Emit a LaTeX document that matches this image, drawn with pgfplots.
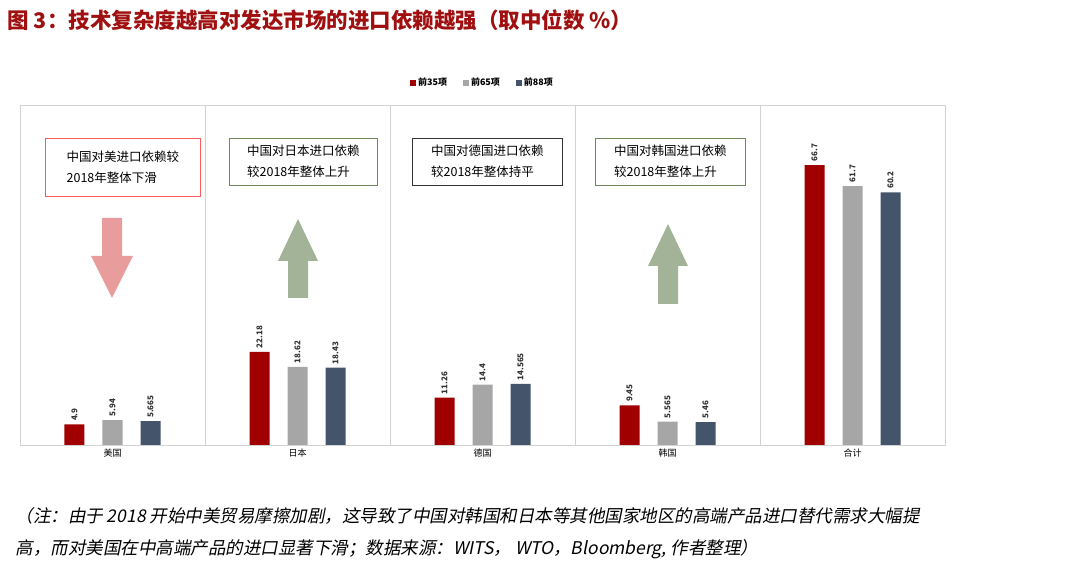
\documentclass[border=0pt]{standalone}
\usepackage{fontspec}
\setmainfont{Noto Sans CJK SC}[AutoFakeSlant=0.2]
\usepackage{pgfplots}
\pgfplotsset{compat=1.18}
\definecolor{cA}{HTML}{A00000}
\definecolor{cB}{HTML}{A6A6A6}
\definecolor{cC}{HTML}{44546A}
\definecolor{tred}{HTML}{A01010}
\definecolor{arrg}{HTML}{A3B398}
\definecolor{arrp}{HTML}{E89C9C}
\definecolor{bxg}{HTML}{6E8A5A}
\begin{document}
\begin{tikzpicture}[x=1pt,y=1pt]
\path (0,0) rectangle (1080,581);
\node[anchor=west,text=tred,font=\fontsize{21.5}{24}\selectfont\bfseries] at (4,561) {图 3：技术复杂度越高对发达市场的进口依赖越强（取中位数 \%）};
\begin{axis}[at={(20pt,136pt)},anchor=south west,scale only axis,width=925pt,height=340pt,
  xmin=-0.5,xmax=4.5,ymin=0,ymax=81,
  ybar,bar width=20pt,
  axis line style={draw=gray!35},
  ytick=\empty,xtick={0,1,2,3,4},xticklabels={美国,日本,德国,韩国,合计},
  x tick label style={font=\fontsize{9}{10}\selectfont},
  major tick length=0pt,
  legend style={at={(0.5,1.04)},anchor=south,draw=none,legend columns=3,font=\fontsize{9}{10}\selectfont\bfseries,/tikz/every even column/.append style={column sep=14pt}},
  legend image code/.code={\fill[#1] (0,-3pt) rectangle (6pt,3pt);},
  nodes near coords,point meta=explicit symbolic,
  every node near coord/.append style={rotate=90,anchor=west,font=\fontsize{8}{9}\selectfont\bfseries,text=black!80},
  clip=false]
\addplot[fill=cA,draw=none,bar shift=-38pt] coordinates {(0,4.9)[4.9] (1,22.18)[22.18] (2,11.26)[11.26] (3,9.45)[9.45] (4,66.7)[66.7]};
\addplot[fill=cB,draw=none,bar shift=0pt] coordinates {(0,5.94)[5.94] (1,18.62)[18.62] (2,14.4)[14.4] (3,5.565)[5.565] (4,61.7)[61.7]};
\addplot[fill=cC,draw=none,bar shift=38pt] coordinates {(0,5.665)[5.665] (1,18.43)[18.43] (2,14.565)[14.565] (3,5.46)[5.46] (4,60.2)[60.2]};
\legend{前35项,前65项,前88项}
\foreach \v in {0.5,1.5,2.5,3.5}{\edef\tmp{\noexpand\draw[gray!35] (axis cs:\v,0) -- (axis cs:\v,81);}\tmp}
\end{axis}
\tikzset{bx/.style={draw=#1,thick,fill=white,align=left,inner sep=7pt,font=\fontsize{12.5}{21}\selectfont,anchor=north west}}
\node[bx=red!65,minimum width=155pt,minimum height=58pt] at (45,443) {中国对美进口依赖较\\2018年整体下滑};
\node[bx=bxg,minimum width=148pt] at (229,443) {中国对日本进口依赖\\较2018年整体上升};
\node[bx=black!80,minimum width=150pt] at (412,443) {中国对德国进口依赖\\较2018年整体持平};
\node[bx=bxg,minimum width=150pt] at (595,443) {中国对韩国进口依赖\\较2018年整体上升};
\fill[arrp] (102,363)--(122,363)--(122,325)--(133,325)--(112,283)--(91,325)--(102,325)--cycle;
\fill[arrg] (288,283)--(308,283)--(308,320)--(318,320)--(298,362)--(278,320)--(288,320)--cycle;
\fill[arrg] (658,277)--(678,277)--(678,315)--(688,315)--(668,357)--(648,315)--(658,315)--cycle;
\node[anchor=north west,align=left,font=\fontsize{17.5}{32}\selectfont\itshape] at (12,77) {（注：由于 2018 开始中美贸易摩擦加剧，这导致了中国对韩国和日本等其他国家地区的高端产品进口替代需求大幅提\\高，而对美国在中高端产品的进口显著下滑；数据来源：WITS，\ WTO，Bloomberg, 作者整理）};
\end{tikzpicture}
\end{document}
